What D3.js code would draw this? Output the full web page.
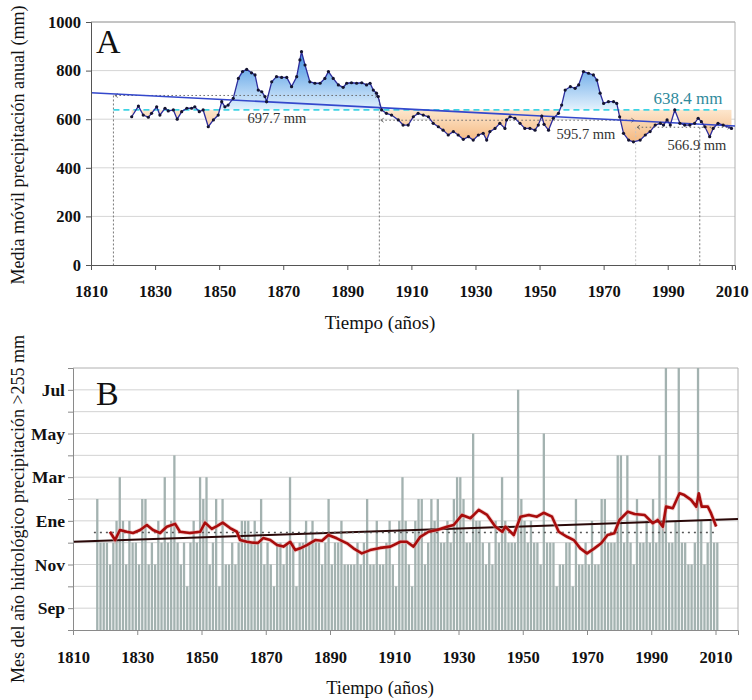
<!DOCTYPE html>
<html><head><meta charset="utf-8">
<script src="https://cdn.jsdelivr.net/npm/d3@7"></script>
<style>body{margin:0;background:#fff} svg{display:block}</style>
</head><body><svg id="c" width="752" height="700"></svg>
<script>
// ---------- Panel A data ----------
const avgYears = [1822.7,1824.8,1826.3,1827.9,1828.9,1830.5,1831.5,1833.1,1834.1,1835.7,1836.9,1838.3,1839.9,1841.4,1842.4,1843.8,1845.0,1846.6,1848.2,1849.7,1850.8,1851.8,1852.8,1854.4,1856.0,1857.3,1858.6,1860.1,1861.2,1862.2,1863.3,1864.3,1864.8,1866.4,1867.9,1869.5,1871.1,1872.6,1874.2,1875.2,1875.7,1876.8,1878.3,1879.9,1881.5,1883.0,1884.1,1885.6,1887.2,1888.7,1889.8,1891.3,1892.9,1894.5,1896.0,1897.1,1898.1,1899.1,1899.6,1900.7,1902.2,1903.8,1905.9,1907.4,1909.0,1910.6,1912.1,1913.7,1915.3,1916.8,1918.4,1919.9,1921.5,1923.1,1924.6,1926.2,1927.8,1929.3,1930.9,1932.4,1933.5,1934.5,1936.1,1937.6,1939.2,1939.7,1940.8,1942.3,1943.9,1945.4,1947.0,1948.6,1949.6,1950.7,1951.4,1952.8,1954.3,1955.9,1956.9,1958.0,1959.6,1961.1,1962.2,1963.7,1965.3,1966.8,1967.9,1968.9,1970.0,1971.5,1973.1,1974.1,1975.0,1976.2,1977.8,1979.3,1981.4,1983.0,1984.5,1986.1,1987.7,1988.7,1989.8,1990.8,1992.2,1993.8,1995.3,1996.9,1998.4,1999.5,2000.5,2001.6,2003.1,2004.2,2005.7,2007.3,2009.9];
const avgVals = [610,654,617,608,624,651,617,645,634,638,600,631,645,645,651,631,638,569,597,617,672,651,658,686,768,796,805,791,782,720,713,693,672,754,775,772,772,734,775,844,878,823,754,748,748,768,796,768,741,731,748,750,748,750,741,748,720,707,693,638,624,617,597,576,576,610,624,617,610,583,569,555,535,549,535,517,528,514,535,542,514,549,562,583,562,597,610,604,583,562,562,555,576,613,579,555,604,624,658,720,734,727,741,796,789,782,761,707,665,672,672,665,610,542,514,507,514,535,549,576,583,576,597,576,638,583,576,576,583,604,590,569,528,562,583,576,562];
const meanAll = 638.4;
const trendAYears = [1810, 2011];
const trendAVals = [709, 572];
const periodStart = [1817, 1900, 1980];
const periodEnd = [1900, 1980, 2010];
const periodMean = [697.7, 595.7, 566.9];
const periodLabels = ["697.7 mm", "595.7 mm", "566.9 mm"];
const vLineYears = [1817, 1900, 1980, 2000];
const vLineTop = [697.7, 697.7, 566.9, 566.9];
const aYTicks = [0, 200, 400, 600, 800, 1000];
const xTicks = [1810, 1830, 1850, 1870, 1890, 1910, 1930, 1950, 1970, 1990, 2010];

// ---------- Panel B data ----------
const barStartYear = 1817;
const barMonths = [
  14,12,12,
  12,11,12,13,15,13,11,13,12,12,
  11,14,14,11,12,11,13,12,15,12,
  13,16,12,11,12,10,12,13,12,15,
  14,15,11,12,14,10,14,11,11,12,
  11,12,13,13,13,12,13,12,14,11,
  12,11,10,12,12,11,12,15,12,10,
  12,12,13,12,13,12,12,11,12,14,
  11,12,12,13,11,11,11,11,12,11,
  12,14,11,11,13,11,11,12,13,11,
  10,13,15,13,11,10,13,14,14,11,
  12,14,13,14,12,12,13,12,14,15,
  15,14,12,12,17,13,13,12,11,12,
  11,13,12,15,13,12,12,12,19,14,
  13,12,13,12,12,11,17,12,12,12,
  10,11,11,12,12,10,14,11,11,12,
  11,13,11,11,14,14,12,12,12,16,
  16,12,16,12,11,14,12,12,13,12,
  14,12,16,13,20,12,12,13,20,12,
  12,11,11,12,20,13,11,12,13,12,
  12
];
const redYears = [1821.5,1823.1,1824.6,1826.7,1828.7,1830.9,1833.0,1834.9,1837.1,1839.2,1841.8,1843.3,1846.4,1849.6,1851.1,1853.2,1854.8,1856.6,1858.9,1861.0,1862.0,1864.1,1866.1,1867.6,1869.2,1871.4,1873.5,1875.5,1877.6,1879.2,1880.7,1882.8,1885.4,1887.5,1889.5,1892.1,1895.3,1897.3,1899.9,1902.5,1905.6,1908.8,1911.9,1913.9,1916.0,1918.1,1920.7,1923.3,1926.4,1928.5,1931.1,1933.7,1936.3,1938.9,1941.5,1943.6,1944.6,1947.2,1949.3,1951.9,1954.4,1956.5,1959.1,1961.2,1963.8,1965.9,1967.9,1970.0,1972.3,1974.4,1976.4,1978.5,1980.1,1982.7,1984.8,1987.9,1990.5,1992.0,1993.6,1994.6,1996.7,1998.8,2000.3,2002.4,2004.0,2004.8,2005.7,2007.6,2008.6,2010.2];
const redVals = [12.50,12.12,12.58,12.50,12.44,12.58,12.81,12.58,12.44,12.73,12.86,12.50,12.44,12.50,12.92,12.63,12.76,12.92,12.67,12.50,12.12,12.04,12.00,11.99,12.21,12.12,11.89,11.82,12.04,11.66,11.74,11.89,12.12,12.09,12.35,12.20,11.97,11.74,11.51,11.66,11.76,11.82,12.04,12.04,11.82,12.27,12.50,12.58,12.73,12.81,13.27,13.12,13.50,13.27,12.73,12.50,12.73,12.35,13.19,13.27,13.19,13.37,13.19,12.50,12.27,12.12,11.74,11.51,11.74,11.97,12.35,12.43,13.04,13.42,13.31,13.27,12.89,13.04,12.73,13.65,13.58,14.26,14.18,13.96,13.65,14.26,13.65,13.65,13.35,12.74];
const trendBYears = [1810, 2017];
const trendBVals = [12.04, 13.08];
const meanBYears = [1816.5, 2010.5];
const meanBVal = 12.47;
const monthGrid = [8,9,10,11,12,13,14,15,16,17,18,19,20];
const monthTickValues = [9, 11, 13, 15, 17, 19];
const monthTickLabels = ["Sep", "Nov", "Ene", "Mar", "May", "Jul"];

// ---------- drawing ----------
const svg = d3.select("#c");
const serif = "'Liberation Serif','Times New Roman',Times,serif";
const defs = svg.append("defs");

// ===== Panel A =====
const xA = d3.scaleLinear().domain([1810, 2011]).range([91, 735]);
const yA = d3.scaleLinear().domain([0, 1000]).range([265, 22]);
const gA = svg.append("g");

gA.selectAll("line.gridA").data(aYTicks.filter(d => d > 0 && d < 1000)).join("line")
  .attr("x1", xA.range()[0]).attr("x2", xA.range()[1])
  .attr("y1", d => yA(d)).attr("y2", d => yA(d))
  .attr("stroke", "#d6d6d6").attr("stroke-width", 1);
gA.append("line").attr("x1", xA.range()[0]).attr("x2", xA.range()[1])
  .attr("y1", yA(1000)).attr("y2", yA(1000)).attr("stroke", "#8a8a8a");
gA.append("line").attr("x1", xA.range()[1]).attr("x2", xA.range()[1])
  .attr("y1", yA(1000)).attr("y2", yA(0)).attr("stroke", "#b0b0b0");

const gb = defs.append("linearGradient").attr("id", "gBlue")
  .attr("gradientUnits", "userSpaceOnUse").attr("x1", 0).attr("x2", 0)
  .attr("y1", yA(880)).attr("y2", yA(meanAll));
gb.append("stop").attr("offset", 0).attr("stop-color", "#3c8ee0");
gb.append("stop").attr("offset", 1).attr("stop-color", "#e4f2fd");
const go = defs.append("linearGradient").attr("id", "gOrange")
  .attr("gradientUnits", "userSpaceOnUse").attr("x1", 0).attr("x2", 0)
  .attr("y1", yA(meanAll)).attr("y2", yA(500));
go.append("stop").attr("offset", 0).attr("stop-color", "#fde6cd");
go.append("stop").attr("offset", 1).attr("stop-color", "#f4b67c");

defs.append("clipPath").attr("id", "clipAbove").append("rect")
  .attr("x", 91).attr("y", 22).attr("width", 644).attr("height", yA(meanAll) - 22);
defs.append("clipPath").attr("id", "clipBelow").append("rect")
  .attr("x", 91).attr("y", yA(meanAll)).attr("width", 644).attr("height", 265 - yA(meanAll));

const idx = d3.range(avgYears.length);
const area = d3.area().x(i => xA(avgYears[i])).y0(yA(meanAll)).y1(i => yA(avgVals[i]));
gA.append("path").attr("d", area(idx)).attr("fill", "url(#gBlue)").attr("clip-path", "url(#clipAbove)");
gA.append("path").attr("d", area(idx)).attr("fill", "url(#gOrange)").attr("clip-path", "url(#clipBelow)");

// vertical dashed lines
gA.selectAll("line.vl").data(d3.range(vLineYears.length)).join("line")
  .attr("x1", i => xA(vLineYears[i])).attr("x2", i => xA(vLineYears[i]))
  .attr("y1", i => yA(vLineTop[i])).attr("y2", yA(0))
  .attr("stroke", i => vLineYears[i] === 1980 ? "#c4c4c4" : "#7a7a7a")
  .attr("stroke-width", 1).attr("stroke-dasharray", "2,2");

// arrow markers
const mk = (id, path) => defs.append("marker").attr("id", id)
  .attr("viewBox", "-6 -5 12 10").attr("markerWidth", 7).attr("markerHeight", 7)
  .attr("orient", "auto").attr("markerUnits", "userSpaceOnUse")
  .append("path").attr("d", path).attr("fill", "none").attr("stroke", "#555").attr("stroke-width", 1.3);
mk("arrS", "M4,-3.5 L-1,0 L4,3.5");
mk("arrE", "M-4,-3.5 L1,0 L-4,3.5");

// cyan mean line
gA.append("line").attr("x1", xA(1817)).attr("x2", xA(2005.4))
  .attr("y1", yA(meanAll)).attr("y2", yA(meanAll))
  .attr("stroke", "#3fd3e3").attr("stroke-width", 1.8).attr("stroke-dasharray", "6,4");

// period mean dotted lines
gA.selectAll("line.pm").data(d3.range(periodMean.length)).join("line")
  .attr("x1", i => xA(periodStart[i]) + 2).attr("x2", i => xA(periodEnd[i]) - 2)
  .attr("y1", i => yA(periodMean[i])).attr("y2", i => yA(periodMean[i]))
  .attr("stroke", "#666").attr("stroke-width", 1).attr("stroke-dasharray", "1.5,2.5")
  .attr("marker-start", "url(#arrS)").attr("marker-end", "url(#arrE)");

// trend line
const lineA = d3.line().x(i => xA(trendAYears[i])).y(i => yA(trendAVals[i]));
gA.append("path").attr("d", lineA([0, 1])).attr("stroke", "#3448cc").attr("stroke-width", 1.6).attr("fill", "none");

// curve + dots
const lineAvg = d3.line().x(i => xA(avgYears[i])).y(i => yA(avgVals[i]));
gA.append("path").attr("d", lineAvg(idx)).attr("stroke", "#2c2c9c").attr("stroke-width", 1.3).attr("fill", "none");
gA.selectAll("circle.pt").data(idx).join("circle")
  .attr("cx", i => xA(avgYears[i])).attr("cy", i => yA(avgVals[i])).attr("r", 1.6).attr("fill", "#141430");

// labels
const labX = [277, 586, 697];
const labY = [123, 139, 150];
gA.selectAll("text.pl").data(d3.range(periodLabels.length)).join("text")
  .attr("x", i => labX[i]).attr("y", i => labY[i]).attr("text-anchor", "middle")
  .attr("font-family", serif).attr("font-size", 14.5).attr("fill", "#333").text(i => periodLabels[i]);
gA.append("text").attr("x", 688).attr("y", 104).attr("text-anchor", "middle")
  .attr("font-family", serif).attr("font-size", 17).attr("fill", "#2f8a9c").text(meanAll.toFixed(1) + " mm");
gA.append("text").attr("x", 96).attr("y", 53).attr("font-family", serif).attr("font-size", 34).attr("fill", "#111").text("A");

// axes A
const axLA = gA.append("g").attr("transform", "translate(91,0)")
  .call(d3.axisLeft(yA).tickValues(aYTicks).tickSize(5).tickPadding(5).tickFormat(d3.format("d")));
const axBA = gA.append("g").attr("transform", "translate(0,265)")
  .call(d3.axisBottom(xA).tickValues(xTicks).tickSize(5).tickPadding(15).tickFormat(d3.format("d")));
[axLA, axBA].forEach(a => {
  a.select(".domain").attr("stroke", "#555");
  a.selectAll(".tick line").attr("stroke", "#555");
  a.selectAll("text").attr("font-family", serif).attr("font-size", 16.5).attr("font-weight", "bold").attr("fill", "#111");
});
gA.append("text").attr("x", 380).attr("y", 329).attr("text-anchor", "middle")
  .attr("font-family", serif).attr("font-size", 19).attr("fill", "#111").text("Tiempo (años)");
gA.append("text").attr("transform", "translate(24,145) rotate(-90)").attr("text-anchor", "middle")
  .attr("font-family", serif).attr("font-size", 18).attr("fill", "#111").text("Media móvil precipitación anual (mm)");

// ===== Panel B =====
const xB = d3.scaleLinear().domain([1810, 2017]).range([73, 738]);
const yB = d3.scaleLinear().domain([8, 20]).range([630, 368]);
const gB = svg.append("g");

gB.selectAll("line.gridB").data(monthGrid.filter(d => d > 8)).join("line")
  .attr("x1", 73).attr("x2", 738).attr("y1", d => yB(d)).attr("y2", d => yB(d))
  .attr("stroke", d => d === 20 ? "#b0b0b0" : "#d2d2d2");
gB.append("line").attr("x1", 738).attr("x2", 738).attr("y1", 368).attr("y2", 630).attr("stroke", "#b0b0b0");

const barYears = barMonths.map((d, i) => barStartYear + i);
gB.selectAll("rect.bar").data(d3.range(barMonths.length)).join("rect")
  .attr("x", i => xB(barYears[i] + 0.2)).attr("width", 2.3)
  .attr("y", i => yB(Math.min(barMonths[i], 20.15)))
  .attr("height", i => yB(8) - yB(Math.min(barMonths[i], 20.15)))
  .attr("fill", "#a3b2b0");

// trend & mean
const lineTB = d3.line().x(i => xB(trendBYears[i])).y(i => yB(trendBVals[i]));
gB.append("path").attr("d", lineTB([0, 1])).attr("stroke", "#2a0808").attr("stroke-width", 2).attr("fill", "none");
gB.append("line").attr("x1", xB(meanBYears[0])).attr("x2", xB(meanBYears[1]))
  .attr("y1", yB(meanBVal)).attr("y2", yB(meanBVal))
  .attr("stroke", "#555").attr("stroke-width", 1.5).attr("stroke-dasharray", "2,4");

const ridx = d3.range(redYears.length);
const lineRed = d3.line().x(i => xB(redYears[i])).y(i => yB(redVals[i])).curve(d3.curveLinear);
gB.append("path").attr("d", lineRed(ridx)).attr("stroke", "#e8a0a0").attr("stroke-width", 4.2).attr("fill", "none").attr("opacity", 0.5);
gB.append("path").attr("d", lineRed(ridx)).attr("stroke", "#a80c0c").attr("stroke-width", 2.6).attr("fill", "none").attr("stroke-linejoin", "round");

gB.append("text").attr("x", 96).attr("y", 405).attr("font-family", serif).attr("font-size", 34).attr("fill", "#111").text("B");

const axLB = gB.append("g").attr("transform", "translate(73,0)")
  .call(d3.axisLeft(yB).tickValues(monthGrid).tickSize(5).tickPadding(3)
    .tickFormat(d => { const k = monthTickValues.indexOf(d); return k >= 0 ? monthTickLabels[k] : ""; }));
const axBB = gB.append("g").attr("transform", "translate(0,630)")
  .call(d3.axisBottom(xB).tickValues(xTicks).tickSize(5).tickPadding(16).tickFormat(d3.format("d")));
[axLB, axBB].forEach(a => {
  a.select(".domain").attr("stroke", "#8a8a8a");
  a.selectAll(".tick line").attr("stroke", "#8a8a8a");
  a.selectAll("text").attr("font-family", serif).attr("font-size", 16.5).attr("font-weight", "bold").attr("fill", "#111");
});
axLB.selectAll("text").attr("font-size", 17.5);
gB.append("text").attr("x", 380).attr("y", 694).attr("text-anchor", "middle")
  .attr("font-family", serif).attr("font-size", 18.5).attr("fill", "#111").text("Tiempo (años)");
gB.append("text").attr("transform", "translate(24,509) rotate(-90)").attr("text-anchor", "middle")
  .attr("font-family", serif).attr("font-size", 18).attr("fill", "#111").text("Mes del año hidrológico precipitación >255 mm");
</script></body></html>
